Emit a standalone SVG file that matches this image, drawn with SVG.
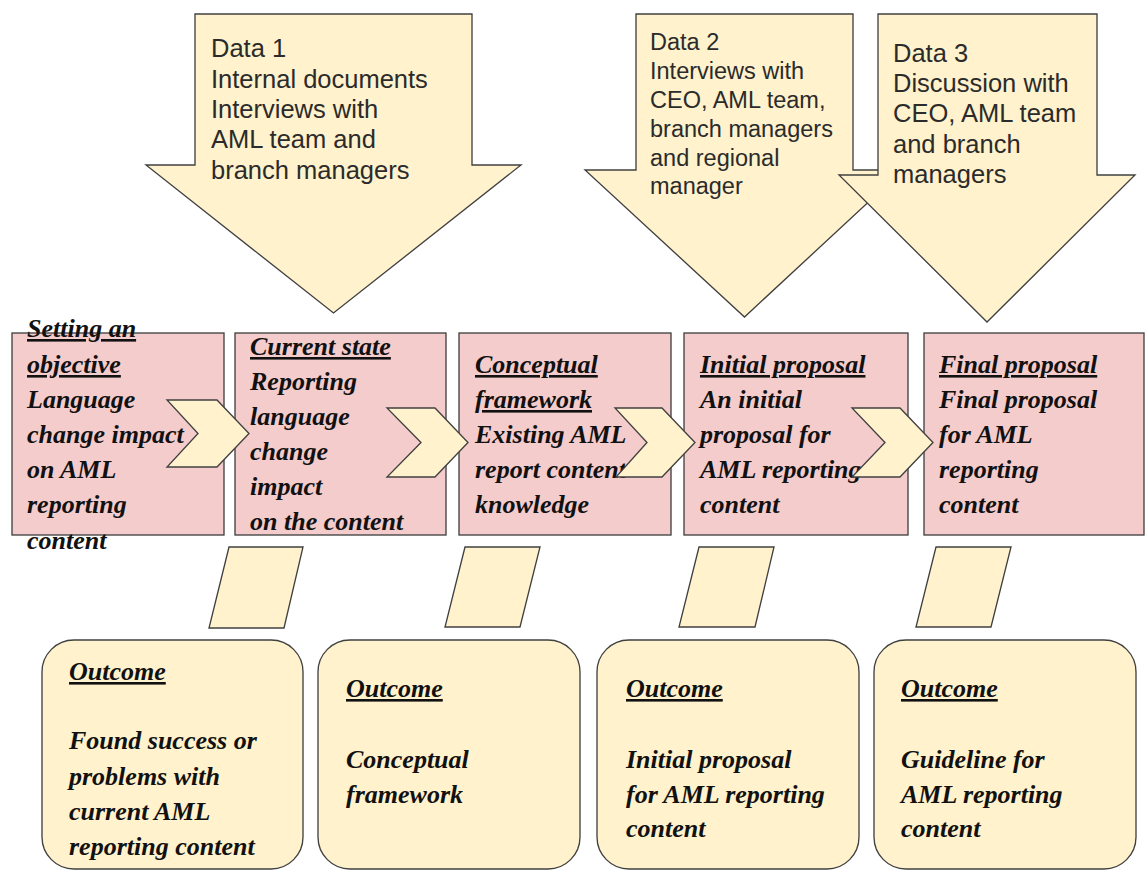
<svg xmlns="http://www.w3.org/2000/svg" width="1146" height="871" viewBox="0 0 1146 871">
  <style>
    .shape { stroke: #404040; stroke-width: 1.33; stroke-linejoin: miter; }
    .cream { fill: #fff2cc; }
    .pink { fill: #f4cccc; }
    .data { font-family: "Liberation Sans", Arial, sans-serif; fill: #2b2b2b; }
    .hand { font-family: "Liberation Serif", "Times New Roman", serif; font-weight: bold; font-style: italic; font-size: 26px; fill: #111; }
    .u { text-decoration: underline; }
  </style>
  <rect width="1146" height="871" fill="#ffffff"/>

  <!-- data inputs: downward block arrows -->
  <g id="data1">
    <path class="shape cream" d="M195,14 H472 V165 H521 L333.5,313 L146,165 H195 Z"/>
    <text class="data" font-size="25.5">
      <tspan x="211" y="57">Data 1</tspan>
      <tspan x="211" y="88">Internal documents</tspan>
      <tspan x="211" y="118">Interviews with</tspan>
      <tspan x="211" y="148">AML team and</tspan>
      <tspan x="211" y="179">branch managers</tspan>
    </text>
  </g>
  <g id="data2">
    <path class="shape cream" d="M636,14 H853 V170 H903 L744.5,317 L585,170 H636 Z"/>
    <text class="data" font-size="23.5">
      <tspan x="650" y="50">Data 2</tspan>
      <tspan x="650" y="79">Interviews with</tspan>
      <tspan x="650" y="108">CEO, AML team,</tspan>
      <tspan x="650" y="137">branch managers</tspan>
      <tspan x="650" y="166">and regional</tspan>
      <tspan x="650" y="194">manager</tspan>
    </text>
  </g>
  <g id="data3">
    <path class="shape cream" d="M878,14 H1097 V175 H1135 L987,322 L839,175 H878 Z"/>
    <text class="data" font-size="25.5">
      <tspan x="893" y="62">Data 3</tspan>
      <tspan x="893" y="92">Discussion with</tspan>
      <tspan x="893" y="122">CEO, AML team</tspan>
      <tspan x="893" y="153">and branch</tspan>
      <tspan x="893" y="183">managers</tspan>
    </text>
  </g>

  <!-- process steps -->
  <g id="step-objective">
    <rect class="shape pink" x="12" y="333" width="212" height="202"/>
    <text class="hand">
      <tspan class="u" x="27" y="337">Setting an</tspan>
      <tspan class="u" x="27" y="373">objective</tspan>
      <tspan x="27" y="408">Language</tspan>
      <tspan x="27" y="443">change impact</tspan>
      <tspan x="27" y="478">on AML</tspan>
      <tspan x="27" y="513">reporting</tspan>
      <tspan x="27" y="549">content</tspan>
    </text>
  </g>
  <g id="step-current">
    <rect class="shape pink" x="235" y="333" width="211" height="202"/>
    <text class="hand">
      <tspan class="u" x="250" y="355">Current state</tspan>
      <tspan x="250" y="390">Reporting</tspan>
      <tspan x="250" y="425">language</tspan>
      <tspan x="250" y="460">change</tspan>
      <tspan x="250" y="495">impact</tspan>
      <tspan x="250" y="530">on the content</tspan>
    </text>
  </g>
  <g id="step-framework">
    <rect class="shape pink" x="459" y="333" width="212" height="202"/>
    <text class="hand">
      <tspan class="u" x="475" y="373">Conceptual</tspan>
      <tspan class="u" x="475" y="408">framework</tspan>
      <tspan x="475" y="443">Existing AML</tspan>
      <tspan x="475" y="478">report content</tspan>
      <tspan x="475" y="513">knowledge</tspan>
    </text>
  </g>
  <g id="step-initial">
    <rect class="shape pink" x="684" y="333" width="224" height="202"/>
    <text class="hand">
      <tspan class="u" x="700" y="373">Initial proposal</tspan>
      <tspan x="700" y="408">An initial</tspan>
      <tspan x="700" y="443">proposal for</tspan>
      <tspan x="700" y="478">AML reporting</tspan>
      <tspan x="700" y="513">content</tspan>
    </text>
  </g>
  <g id="step-final">
    <rect class="shape pink" x="924" y="333" width="220" height="202"/>
    <text class="hand">
      <tspan class="u" x="939" y="373">Final proposal</tspan>
      <tspan x="939" y="408">Final proposal</tspan>
      <tspan x="939" y="443">for AML</tspan>
      <tspan x="939" y="478">reporting</tspan>
      <tspan x="939" y="513">content</tspan>
    </text>
  </g>

  <!-- flow between steps and links down to outcomes -->
  <g id="connectors">
    <polygon class="shape cream" points="167,400 217,400 249,433.5 217,467 167,467 198,433.5"/>
    <polygon class="shape cream" points="387,408 435,408 468,442.5 435,477 387,477 421,442.5"/>
    <polygon class="shape cream" points="615,408 662,408 695,442.5 662,477 616,477 647,442.5"/>
    <polygon class="shape cream" points="852,408 900,408 933,442.5 900,477 852,477 885,442.5"/>
    <polygon class="shape cream" points="229,547 303,547 284,628 209,628"/>
    <polygon class="shape cream" points="465,547 540,547 520,627 445,627"/>
    <polygon class="shape cream" points="699,547 774,547 755,627 679,627"/>
    <polygon class="shape cream" points="936,547 1011,547 991,627 916,627"/>
  </g>

  <!-- outcomes -->
  <g id="outcome-1">
    <rect class="shape cream" x="42" y="640" width="261" height="229" rx="32" ry="32"/>
    <text class="hand">
      <tspan class="u" x="69" y="680">Outcome</tspan>
      <tspan x="69" y="749">Found success or</tspan>
      <tspan x="69" y="785">problems with</tspan>
      <tspan x="69" y="820">current AML</tspan>
      <tspan x="69" y="855">reporting content</tspan>
    </text>
  </g>
  <g id="outcome-2">
    <rect class="shape cream" x="318" y="640" width="262" height="229" rx="32" ry="32"/>
    <text class="hand">
      <tspan class="u" x="346" y="697">Outcome</tspan>
      <tspan x="346" y="768">Conceptual</tspan>
      <tspan x="346" y="803">framework</tspan>
    </text>
  </g>
  <g id="outcome-3">
    <rect class="shape cream" x="597" y="640" width="262" height="229" rx="32" ry="32"/>
    <text class="hand">
      <tspan class="u" x="626" y="697">Outcome</tspan>
      <tspan x="626" y="768">Initial proposal</tspan>
      <tspan x="626" y="803">for AML reporting</tspan>
      <tspan x="626" y="837">content</tspan>
    </text>
  </g>
  <g id="outcome-4">
    <rect class="shape cream" x="874" y="640" width="262" height="229" rx="32" ry="32"/>
    <text class="hand">
      <tspan class="u" x="901" y="697">Outcome</tspan>
      <tspan x="901" y="768">Guideline for</tspan>
      <tspan x="901" y="803">AML reporting</tspan>
      <tspan x="901" y="837">content</tspan>
    </text>
  </g>
</svg>
